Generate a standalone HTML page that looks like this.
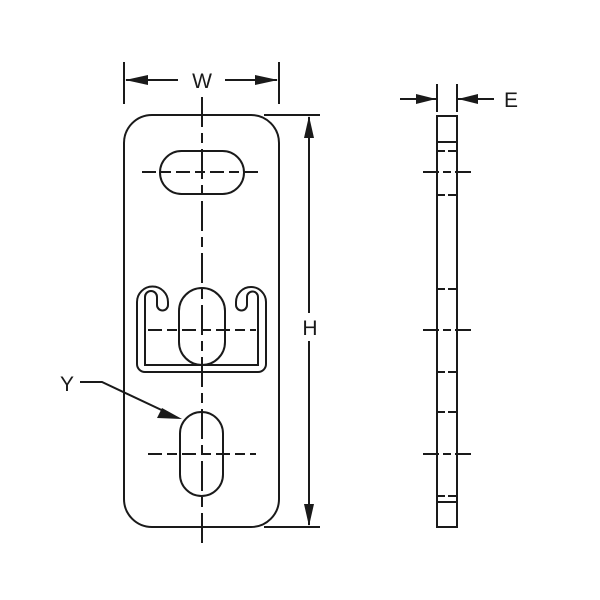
<!DOCTYPE html>
<html><head><meta charset="utf-8"><style>html,body{margin:0;padding:0;background:#fff}svg{display:block}</style></head>
<body>
<svg width="600" height="600" viewBox="0 0 600 600" xmlns="http://www.w3.org/2000/svg">
<g fill="none" stroke="#1a1a1a" stroke-width="2">
<rect x="124" y="115" width="155" height="412" rx="28"/>
<rect x="160" y="151" width="84" height="43" rx="21.5"/>
<rect x="180" y="412" width="43" height="84" rx="21.5"/>
<rect x="179" y="288" width="46" height="77" rx="23"/>
<path d="M145 365 L145 297 A6 6 0 0 1 157 297 L157 305 A5.5 5.5 0 0 0 168 305 L168 302 A15.5 15.5 0 0 0 137 302 L137 364 A8 8 0 0 0 145 372 L258 372 A8 8 0 0 0 266 364 L266 302 A15 15 0 0 0 236 302 L236 305 A5.5 5.5 0 0 0 247 305 L247 297 A5.5 5.5 0 0 1 258 297 L258 365 Z"/>
<rect x="437" y="116" width="20" height="411"/>
<line x1="437" y1="142" x2="457" y2="142"/>
<line x1="437" y1="502" x2="457" y2="502"/>
</g>
<g stroke="#1a1a1a" stroke-width="2" fill="none">
<line x1="202" y1="97" x2="202" y2="545" stroke-dasharray="30 6 10 6"/>
<line x1="142" y1="172" x2="262" y2="172" stroke-dasharray="14 5 10 5"/>
<line x1="148" y1="330" x2="256" y2="330" stroke-dasharray="14 5 10 5"/>
<line x1="148" y1="454" x2="256" y2="454" stroke-dasharray="14 5 10 5"/>
<line x1="423" y1="172" x2="471" y2="172" stroke-dasharray="16 4 8 4"/>
<line x1="423" y1="330" x2="471" y2="330" stroke-dasharray="16 4 8 4"/>
<line x1="423" y1="454" x2="471" y2="454" stroke-dasharray="16 4 8 4"/>
<g stroke-dasharray="8 3 8 3">
<line x1="437" y1="151" x2="457" y2="151"/>
<line x1="437" y1="195" x2="457" y2="195"/>
<line x1="437" y1="289" x2="457" y2="289"/>
<line x1="437" y1="372" x2="457" y2="372"/>
<line x1="437" y1="412" x2="457" y2="412"/>
<line x1="437" y1="496" x2="457" y2="496"/>
</g>
<line x1="124" y1="62" x2="124" y2="104"/>
<line x1="279" y1="62" x2="279" y2="104"/>
<line x1="126" y1="80" x2="178" y2="80"/>
<line x1="225" y1="80" x2="277" y2="80"/>
<line x1="264" y1="115" x2="320" y2="115"/>
<line x1="264" y1="527" x2="320" y2="527"/>
<line x1="309" y1="117" x2="309" y2="313"/>
<line x1="309" y1="341" x2="309" y2="525"/>
<line x1="437" y1="84" x2="437" y2="112"/>
<line x1="457" y1="84" x2="457" y2="112"/>
<line x1="400" y1="99" x2="436" y2="99"/>
<line x1="458" y1="99" x2="494" y2="99"/>
<polyline points="80,382 102,382 170,414"/>
</g>
<g fill="#1a1a1a">
<polygon points="125,80 148,75 148,85"/>
<polygon points="278,80 255,75 255,85"/>
<polygon points="309,116 304,138 314,138"/>
<polygon points="309,526 304,504 314,504"/>
<polygon points="436,99 416,94 416,104"/>
<polygon points="458,99 478,94 478,104"/>
<polygon points="182,419 162,408 157,418"/>
</g>
<g font-family="Liberation Sans, sans-serif" font-size="21" fill="#1a1a1a" text-anchor="middle">
<text x="202" y="88">W</text>
<text x="310" y="335">H</text>
<text x="511" y="107">E</text>
<text x="67" y="391">Y</text>
</g>
</svg>
</body></html>
